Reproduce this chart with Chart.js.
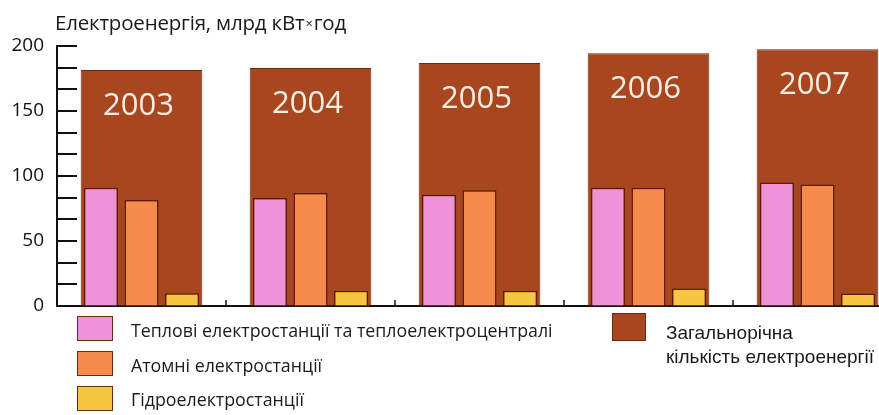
<!DOCTYPE html>
<html lang="uk">
<head>
<meta charset="utf-8">
<script src="https://cdn.jsdelivr.net/npm/chart.js@4.4.1/dist/chart.umd.min.js"></script>
<style>
  html, body { margin: 0; padding: 0; background: #fff; }
  #page { position: relative; width: 879px; height: 415px; overflow: hidden; }
  #chartWrap { position: absolute; left: 0; top: 0; width: 905px; height: 415px; }
  .title { position: absolute; left: 55px; top: 8px; font: 20.5px "Open Sans", sans-serif; color: #1a1a1a; white-space: nowrap; letter-spacing: -0.2px; }
  .swatch { position: absolute; width: 36px; height: 25px; border: 1px solid #6b2a14; box-sizing: border-box; }
  .legend-text { position: absolute; white-space: nowrap; color: #1a1a1a; }
</style>
</head>
<body>
<div id="page">
  <div id="chartWrap"><canvas id="energyChart" width="905" height="415"></canvas></div>
  <div class="title">Електроенергія, млрд кВт<span style="font-size:13px;position:relative;top:-2px;padding:0 1px;">×</span>год</div>
  <div id="legend"></div>
</div>
<script>
const years = ["2003", "2004", "2005", "2006", "2007"];
const thermal = [91, 83, 85.5, 91, 95];
const nuclear = [81.5, 87, 89, 91, 93.5];
const hydro = [9.8, 11.8, 11.8, 13.5, 9.7];
const total = [181.5, 183, 187, 194.5, 197.5];
const yTickLabels = [0, 50, 100, 150, 200];
const MINOR_PER_STEP = 3;

const seriesNames = [
  "Теплові електростанції та теплоелектроцентралі",
  "Атомні електростанції",
  "Гідроелектростанції",
  "Загальнорічна кількість електроенергії"
];
const colors = ["#ef93d8", "#f58a4a", "#f5c63f", "#a8471f"];
const outline = "#5c1a0a";

// tick marks point into the plot, plus small marks between the year groups
const axisMarks = {
  id: "axisMarks",
  beforeDatasetsDraw(chart) {
    const ctx = chart.ctx;
    const area = chart.chartArea;
    const yScale = chart.scales.y;
    const xScale = chart.scales.x;
    ctx.save();
    ctx.strokeStyle = "#111";
    ctx.lineWidth = 2;
    yScale.ticks.forEach(t => {
      const py = Math.round(yScale.getPixelForValue(t.value));
      ctx.beginPath();
      ctx.moveTo(area.left, py);
      ctx.lineTo(area.left + 20, py);
      ctx.stroke();
    });
    ctx.lineWidth = 1.5;
    for (let i = 0; i < years.length - 1; i++) {
      const px = (xScale.getPixelForTick(i) + xScale.getPixelForTick(i + 1)) / 2;
      ctx.beginPath();
      ctx.moveTo(px, area.bottom);
      ctx.lineTo(px, area.bottom - 6);
      ctx.stroke();
    }
    ctx.restore();
  }
};

// the year written inside each total bar
const yearLabels = {
  id: "yearLabels",
  afterDatasetsDraw(chart) {
    const meta = chart.getDatasetMeta(3);
    const ctx = chart.ctx;
    ctx.save();
    ctx.fillStyle = "#f6eee2";
    ctx.font = '31px "Open Sans", sans-serif';
    ctx.textAlign = "center";
    ctx.textBaseline = "middle";
    meta.data.forEach((bar, i) => {
      ctx.fillText(years[i], bar.x - 3, bar.y + 36);
    });
    ctx.restore();
  }
};

const chart = new Chart(document.getElementById("energyChart"), {
  type: "bar",
  data: {
    labels: years,
    datasets: [
      { label: seriesNames[0], data: thermal, order: 1,
        backgroundColor: colors[0], borderColor: outline, borderWidth: 1.5,
        categoryPercentage: 0.72, barPercentage: 0.84 },
      { label: seriesNames[1], data: nuclear, order: 1,
        backgroundColor: colors[1], borderColor: outline, borderWidth: 1.5,
        categoryPercentage: 0.72, barPercentage: 0.84 },
      { label: seriesNames[2], data: hydro, order: 1,
        backgroundColor: colors[2], borderColor: outline, borderWidth: 1.5,
        categoryPercentage: 0.72, barPercentage: 0.84 },
      { label: seriesNames[3], data: total, order: 2, grouped: false,
        backgroundColor: colors[3], borderColor: "#6e2a10", borderWidth: 1,
        categoryPercentage: 0.72, barPercentage: 1 }
    ]
  },
  options: {
    responsive: false,
    animation: false,
    layout: { padding: { top: 46, right: 3, bottom: 108, left: 0 } },
    plugins: {
      legend: { display: false },
      tooltip: { enabled: false }
    },
    scales: {
      x: {
        offset: true,
        ticks: { display: false },
        grid: { display: true, drawOnChartArea: false, drawTicks: false },
        border: { display: true, color: "#111", width: 2 },
        afterFit(scale) { scale.height = 1; }
      },
      y: {
        min: 0,
        max: 200,
        afterBuildTicks(scale) {
          const ticks = [];
          for (let i = 0; i < yTickLabels.length; i++) {
            ticks.push({ value: yTickLabels[i] });
            if (i < yTickLabels.length - 1) {
              const step = (yTickLabels[i + 1] - yTickLabels[i]) / MINOR_PER_STEP;
              for (let k = 1; k < MINOR_PER_STEP; k++) ticks.push({ value: yTickLabels[i] + step * k });
            }
          }
          scale.ticks = ticks;
        },
        afterFit(scale) { scale.width = 57; },
        ticks: {
          autoSkip: false,
          padding: 13,
          color: "#111",
          font: { family: "Open Sans", size: 19 },
          callback: v => (yTickLabels.includes(v) ? String(v) : "")
        },
        grid: { display: true, drawOnChartArea: false, drawTicks: false },
        border: { display: true, color: "#111", width: 2 }
      }
    }
  },
  plugins: [axisMarks, yearLabels]
});

// legend below the plot
const legendEl = document.getElementById("legend");
const legendRows = [
  { swatch: [77, 316], text: [131, 330], font: '17.8px "Open Sans", sans-serif' },
  { swatch: [77, 351], text: [131, 365], font: '17.8px "Open Sans", sans-serif' },
  { swatch: [77, 386], text: [131, 399], font: '17.8px "Open Sans", sans-serif' },
  { swatch: [612, 313], text: [666, 333], font: '19px "Liberation Sans", Arial, sans-serif' }
];
legendRows.forEach((row, i) => {
  const sw = document.createElement("div");
  sw.className = "swatch";
  sw.style.left = row.swatch[0] + "px";
  sw.style.top = row.swatch[1] + "px";
  sw.style.background = colors[i];
  if (i === 3) { sw.style.width = "34px"; sw.style.height = "28px"; }
  legendEl.appendChild(sw);
  const tx = document.createElement("div");
  tx.className = "legend-text";
  tx.style.left = row.text[0] + "px";
  tx.style.font = row.font;
  tx.style.lineHeight = i === 3 ? "24px" : "20px";
  tx.style.top = (row.text[1] - (i === 3 ? 12 : 10)) + "px";
  if (i === 3) {
    tx.innerHTML = "Загальнорічна<br>кількість електроенергії";
  } else {
    tx.textContent = seriesNames[i];
  }
  legendEl.appendChild(tx);
});
</script>
</body>
</html>
